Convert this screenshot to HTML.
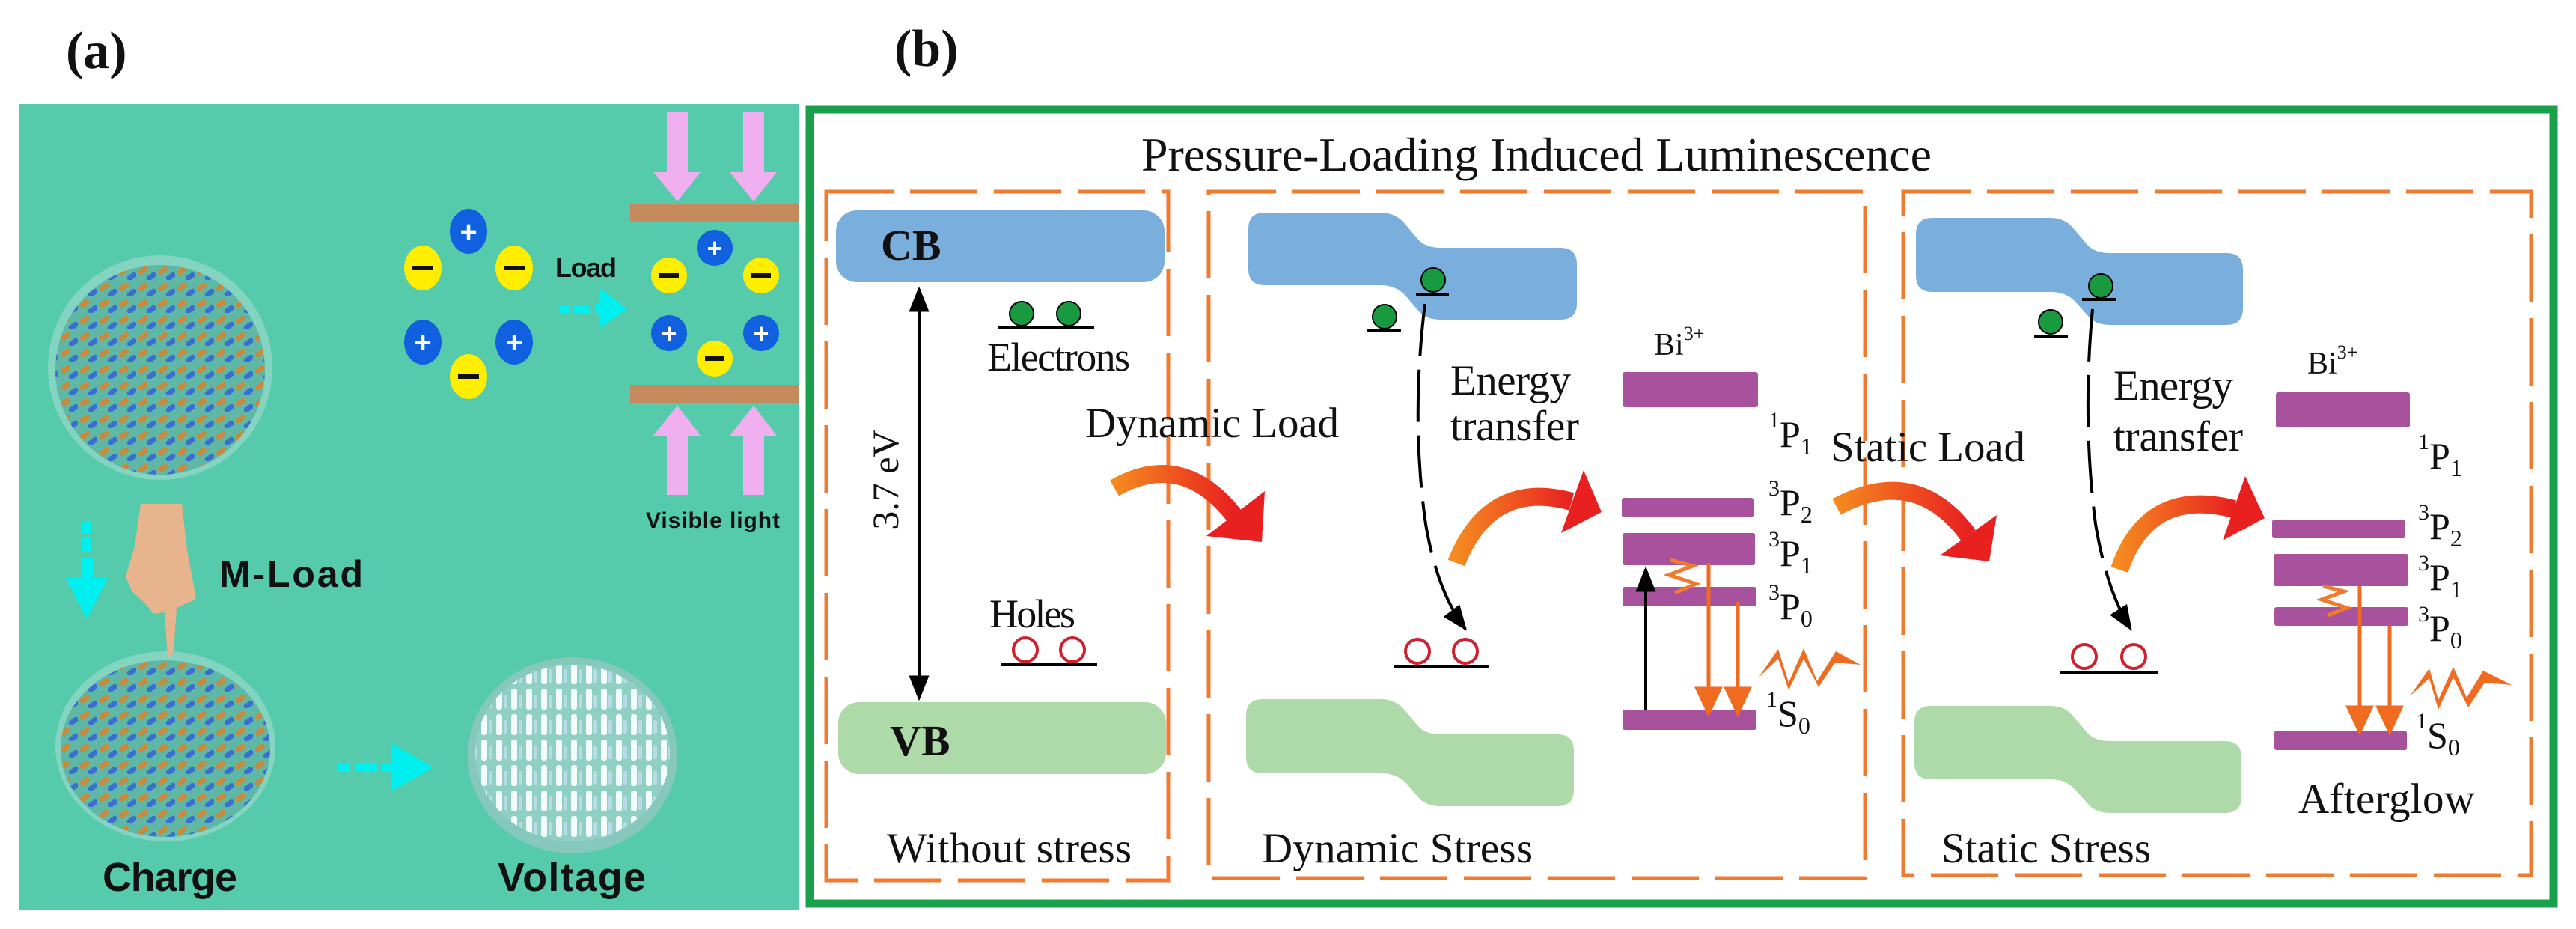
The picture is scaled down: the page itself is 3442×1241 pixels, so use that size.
<!DOCTYPE html>
<html><head><meta charset="utf-8"><style>
html,body{margin:0;padding:0;background:#fff;}
svg{display:block;}
.sr{font-family:"Liberation Serif",serif;fill:#111;}
.ss{font-family:"Liberation Sans",sans-serif;font-weight:bold;fill:#111;}
</style></head><body>
<svg width="3442" height="1241" viewBox="0 0 3442 1241" xmlns="http://www.w3.org/2000/svg">
<defs>
<pattern id="mol" patternUnits="userSpaceOnUse" width="26" height="22">
<rect width="26" height="22" fill="#5fb8a6"/>
<rect x="2" y="6" width="14" height="7" rx="3" fill="#c98a3c" transform="rotate(-35 9 9)"/>
<rect x="13" y="14" width="14" height="7" rx="3" fill="#3a6fd0" transform="rotate(-35 20 17)"/>
</pattern>
<pattern id="volt" patternUnits="userSpaceOnUse" width="20" height="34">
<rect width="20" height="34" fill="#8fd0c3"/>
<rect x="3" y="2" width="8" height="28" rx="3" fill="#f4fbfb"/>
<rect x="13" y="10" width="5" height="18" rx="2" fill="#b9dbe8"/>
</pattern>
<linearGradient id="rg" x1="0" y1="0" x2="1" y2="0"><stop offset="0" stop-color="#f58a20"/><stop offset="1" stop-color="#e82020"/></linearGradient>
<marker id="ahb" viewBox="0 0 10 10" refX="9" refY="5" markerWidth="34" markerHeight="34" orient="auto-start-reverse" markerUnits="userSpaceOnUse"><path d="M0,1 L10,5 L0,9 z" fill="#000"/></marker>
</defs>

<!-- (a) -->
<text x="88" y="91" class="sr" font-size="70" font-weight="bold">(a)</text>
<rect x="25" y="139" width="1043" height="1076" fill="#55cbab"/>
<g fill="#f0b0f0">
<path d="M891,150 H919 V230 H936 L905,269 L873,230 H891 Z"/>
<path d="M993,150 H1021 V230 H1038 L1007,269 L975,230 H993 Z"/>
<path d="M891,661 H919 V582 H936 L905,542 L873,582 H891 Z"/>
<path d="M993,661 H1021 V582 H1038 L1007,542 L975,582 H993 Z"/>
</g>
<rect x="842" y="273" width="226" height="24" fill="#c48a5e"/>
<rect x="842" y="514" width="226" height="24" fill="#c48a5e"/>
<g font-family="Liberation Sans,sans-serif" font-weight="bold" text-anchor="middle">
<ellipse cx="626" cy="309" rx="25" ry="30" fill="#1060e0"/><text x="626" y="323" font-size="40" fill="#fff">+</text>
<ellipse cx="565" cy="358" rx="25" ry="30" fill="#ffee00"/><rect x="551" y="355" width="28" height="6" fill="#111"/>
<ellipse cx="687" cy="358" rx="25" ry="30" fill="#ffee00"/><rect x="673" y="355" width="28" height="6" fill="#111"/>
<ellipse cx="565" cy="457" rx="25" ry="30" fill="#1060e0"/><text x="565" y="471" font-size="40" fill="#fff">+</text>
<ellipse cx="687" cy="457" rx="25" ry="30" fill="#1060e0"/><text x="687" y="471" font-size="40" fill="#fff">+</text>
<ellipse cx="626" cy="503" rx="25" ry="30" fill="#ffee00"/><rect x="612" y="500" width="28" height="6" fill="#111"/>
<ellipse cx="955" cy="331" rx="24" ry="24" fill="#1060e0"/><text x="955" y="344" font-size="36" fill="#fff">+</text>
<ellipse cx="894" cy="368" rx="24" ry="24" fill="#ffee00"/><rect x="881" y="365" width="26" height="6" fill="#111"/>
<ellipse cx="1017" cy="368" rx="24" ry="24" fill="#ffee00"/><rect x="1004" y="365" width="26" height="6" fill="#111"/>
<ellipse cx="894" cy="445" rx="24" ry="24" fill="#1060e0"/><text x="894" y="458" font-size="36" fill="#fff">+</text>
<ellipse cx="1017" cy="445" rx="24" ry="24" fill="#1060e0"/><text x="1017" y="458" font-size="36" fill="#fff">+</text>
<ellipse cx="955" cy="479" rx="24" ry="24" fill="#ffee00"/><rect x="942" y="476" width="26" height="6" fill="#111"/>
</g>
<text x="742" y="370" class="ss" font-size="36" textLength="82">Load</text>
<g fill="#00f0f0">
<rect x="747" y="408" width="14" height="10"/><rect x="767" y="408" width="22" height="10"/>
<path d="M795,406 H800 V384 L838,413 L800,439 V420 H795 Z"/>
<rect x="110" y="696" width="12" height="16"/><rect x="110" y="718" width="12" height="20"/>
<path d="M108,744 H124 V772 H144 L116,827 L88,772 H108 Z"/>
<rect x="452" y="1019" width="16" height="12"/><rect x="474" y="1019" width="30" height="12"/>
<path d="M510,1019 H523 V993 L579,1025 L523,1057 V1031 H510 Z"/>
</g>
<text x="863" y="705" class="ss" font-size="30" textLength="179">Visible light</text>
<circle cx="214" cy="491" r="150" fill="#8ed6c6" opacity="0.8"/>
<circle cx="214" cy="494" r="140" fill="url(#mol)"/>
<ellipse cx="221" cy="997" rx="147" ry="127" fill="#8ed6c6" opacity="0.8"/>
<ellipse cx="221" cy="1000" rx="140" ry="118" fill="url(#mol)"/>
<ellipse cx="765" cy="1009" rx="140" ry="131" fill="#86c8bc"/>
<ellipse cx="765" cy="1006" rx="130" ry="118" fill="url(#volt)"/>
<path d="M188,673 L243,673 L250,735 L262,800 L236,812 L232,870 L224,880 L220,818 L205,820 L196,808 L176,790 L168,770 L180,730 Z" fill="#e8b48e"/>
<text x="293" y="784" class="ss" font-size="50" textLength="192">M-Load</text>
<text x="137" y="1190" class="ss" font-size="54" textLength="180">Charge</text>
<text x="665" y="1190" class="ss" font-size="54" textLength="198">Voltage</text>

<!-- (b) -->
<text x="1195" y="88" class="sr" font-size="70" font-weight="bold">(b)</text>
<rect x="1082" y="146" width="2330" height="1061" fill="none" stroke="#18a04a" stroke-width="11"/>
<text x="1525" y="228" class="sr" font-size="64" textLength="1056">Pressure-Loading Induced Luminescence</text>
<g fill="none" stroke="#f07a30" stroke-width="5" stroke-dasharray="90 22">
<rect x="1104" y="256" width="457" height="920"/>
<rect x="1615" y="256" width="877" height="917"/>
<rect x="2543" y="256" width="839" height="913"/>
</g>

<rect x="1117" y="281" width="439" height="96" rx="28" fill="#7aaedc"/>
<text x="1177" y="347" class="sr" font-size="58" font-weight="bold">CB</text>
<rect x="1120" y="938" width="438" height="96" rx="28" fill="#aed9a8"/>
<text x="1189" y="1009" class="sr" font-size="58" font-weight="bold">VB</text>
<line x1="1228" y1="386" x2="1228" y2="933" stroke="#000" stroke-width="4" marker-start="url(#ahb)" marker-end="url(#ahb)"/>
<text transform="translate(1200,641) rotate(-90)" class="sr" font-size="50" text-anchor="middle">3.7 eV</text>
<circle cx="1365" cy="419" r="16" fill="#1a9a40" stroke="#000" stroke-width="2"/>
<circle cx="1428" cy="419" r="16" fill="#1a9a40" stroke="#000" stroke-width="2"/>
<line x1="1334" y1="438" x2="1462" y2="438" stroke="#000" stroke-width="4"/>
<text x="1319" y="495" class="sr" font-size="54" textLength="191">Electrons</text>
<text x="1322" y="838" class="sr" font-size="54" textLength="115">Holes</text>
<circle cx="1370" cy="868" r="16" fill="#fff" stroke="#d02030" stroke-width="4"/>
<circle cx="1433" cy="868" r="16" fill="#fff" stroke="#d02030" stroke-width="4"/>
<line x1="1338" y1="888" x2="1466" y2="888" stroke="#000" stroke-width="4"/>
<text x="1450" y="584" class="sr" font-size="57" textLength="339">Dynamic Load</text>
<text x="1185" y="1152" class="sr" font-size="57" textLength="327">Without stress</text>

<path d="M1690,284 H1845 Q1865,284 1878,300 L1895,320 Q1905,331 1925,331 H2085 Q2107,331 2107,353 V405 Q2107,427 2085,427 H1925 Q1905,427 1895,415 L1878,395 Q1865,381 1845,381 H1690 Q1668,381 1668,359 V306 Q1668,284 1690,284 Z" fill="#7aaedc"/>
<path d="M1687,934 H1845 Q1865,934 1878,950 L1895,970 Q1905,981 1925,981 H2081 Q2103,981 2103,1003 V1055 Q2103,1077 2081,1077 H1925 Q1905,1077 1895,1065 L1878,1045 Q1865,1033 1845,1033 H1687 Q1665,1033 1665,1011 V956 Q1665,934 1687,934 Z" fill="#aed9a8"/>
<circle cx="1850" cy="423" r="16" fill="#1a9a40" stroke="#000" stroke-width="2"/>
<line x1="1827" y1="441" x2="1872" y2="441" stroke="#000" stroke-width="4"/>
<circle cx="1915" cy="374" r="16" fill="#1a9a40" stroke="#000" stroke-width="2"/>
<line x1="1892" y1="393" x2="1936" y2="393" stroke="#000" stroke-width="4"/>
<path d="M1904,406 Q1885,560 1905,700 Q1920,790 1958,840" fill="none" stroke="#000" stroke-width="4" stroke-dasharray="70 18" marker-end="url(#ahb)"/>
<text x="1938" y="527" class="sr" font-size="57" textLength="161">Energy</text>
<text x="1938" y="588" class="sr" font-size="57" textLength="172">transfer</text>
<circle cx="1894" cy="870" r="16" fill="#fff" stroke="#d02030" stroke-width="4"/>
<circle cx="1958" cy="870" r="16" fill="#fff" stroke="#d02030" stroke-width="4"/>
<line x1="1862" y1="891" x2="1990" y2="891" stroke="#000" stroke-width="4"/>
<text x="1686" y="1152" class="sr" font-size="57" textLength="362">Dynamic Stress</text>
<g fill="#a8529e">
<rect x="2168" y="497" width="181" height="47" rx="3"/>
<rect x="2167" y="665" width="176" height="26" rx="3"/>
<rect x="2168" y="712" width="177" height="43" rx="3"/>
<rect x="2168" y="784" width="179" height="26" rx="3"/>
<rect x="2168" y="948" width="179" height="27" rx="3"/>
</g>
<text x="2210" y="474" class="sr" font-size="42">Bi<tspan font-size="26" dy="-20">3+</tspan></text>
<line x1="2199" y1="948" x2="2199" y2="760" stroke="#000" stroke-width="4" marker-end="url(#ahb)"/>
<polyline points="2232,748 2262,756 2230,768 2266,780 2238,792" fill="none" stroke="#f07a30" stroke-width="5"/>
<g stroke="#f06a20" stroke-width="5" fill="#f06a20">
<line x1="2283" y1="752" x2="2283" y2="925"/><path d="M2268,920 H2298 L2283,952 Z"/>
<line x1="2322" y1="804" x2="2322" y2="925"/><path d="M2307,920 H2337 L2322,952 Z"/>
</g>
<path d="M2350,905 L2376,867 L2390,912 L2410,866 L2428,910 L2453,870 L2486,888 L2452,885 L2430,918 L2410,880 L2390,922 L2376,880 Z" fill="#f06a20"/>
<g class="sr" font-size="50">
<text x="2363" y="597"><tspan font-size="30" dy="-26">1</tspan><tspan dy="26">P</tspan><tspan font-size="32" dy="10">1</tspan></text>
<text x="2363" y="688"><tspan font-size="30" dy="-26">3</tspan><tspan dy="26">P</tspan><tspan font-size="32" dy="10">2</tspan></text>
<text x="2363" y="756"><tspan font-size="30" dy="-26">3</tspan><tspan dy="26">P</tspan><tspan font-size="32" dy="10">1</tspan></text>
<text x="2363" y="827"><tspan font-size="30" dy="-26">3</tspan><tspan dy="26">P</tspan><tspan font-size="32" dy="10">0</tspan></text>
<text x="2360" y="970"><tspan font-size="30" dy="-26">1</tspan><tspan dy="26">S</tspan><tspan font-size="32" dy="10">0</tspan></text>
</g>
<text x="2446" y="616" class="sr" font-size="57" textLength="260">Static Load</text>

<path d="M2582,291 H2740 Q2760,291 2772,307 L2790,328 Q2800,338 2820,338 H2975 Q2997,338 2997,360 V412 Q2997,434 2975,434 H2820 Q2800,434 2790,422 L2772,402 Q2760,390 2740,390 H2582 Q2560,390 2560,368 V313 Q2560,291 2582,291 Z" fill="#7aaedc"/>
<path d="M2580,943 H2740 Q2760,943 2772,959 L2790,980 Q2800,990 2820,990 H2973 Q2995,990 2995,1012 V1064 Q2995,1086 2973,1086 H2820 Q2800,1086 2790,1074 L2772,1054 Q2760,1041 2740,1041 H2580 Q2558,1041 2558,1019 V965 Q2558,943 2580,943 Z" fill="#aed9a8"/>
<circle cx="2740" cy="430" r="16" fill="#1a9a40" stroke="#000" stroke-width="2"/>
<line x1="2718" y1="449" x2="2763" y2="449" stroke="#000" stroke-width="4"/>
<circle cx="2807" cy="382" r="16" fill="#1a9a40" stroke="#000" stroke-width="2"/>
<line x1="2782" y1="400" x2="2828" y2="400" stroke="#000" stroke-width="4"/>
<path d="M2796,413 Q2782,560 2800,700 Q2815,790 2847,840" fill="none" stroke="#000" stroke-width="4" stroke-dasharray="70 18" marker-end="url(#ahb)"/>
<text x="2824" y="534" class="sr" font-size="57" textLength="160">Energy</text>
<text x="2824" y="602" class="sr" font-size="57" textLength="173">transfer</text>
<circle cx="2785" cy="877" r="16" fill="#fff" stroke="#d02030" stroke-width="4"/>
<circle cx="2851" cy="877" r="16" fill="#fff" stroke="#d02030" stroke-width="4"/>
<line x1="2753" y1="899" x2="2883" y2="899" stroke="#000" stroke-width="4"/>
<text x="2594" y="1152" class="sr" font-size="57" textLength="280">Static Stress</text>
<g fill="#a8529e">
<rect x="3041" y="524" width="179" height="47" rx="3"/>
<rect x="3036" y="694" width="178" height="25" rx="3"/>
<rect x="3038" y="740" width="180" height="43" rx="3"/>
<rect x="3039" y="811" width="179" height="25" rx="3"/>
<rect x="3039" y="976" width="177" height="26" rx="3"/>
</g>
<text x="3083" y="499" class="sr" font-size="42">Bi<tspan font-size="26" dy="-20">3+</tspan></text>
<polyline points="3104,783 3132,790 3102,801 3136,812 3110,822" fill="none" stroke="#f07a30" stroke-width="5"/>
<g stroke="#f06a20" stroke-width="5" fill="#f06a20">
<line x1="3153" y1="783" x2="3153" y2="950"/><path d="M3138,945 H3168 L3153,977 Z"/>
<line x1="3193" y1="836" x2="3193" y2="950"/><path d="M3178,945 H3208 L3193,977 Z"/>
</g>
<path d="M3220,930 L3246,893 L3258,935 L3278,891 L3296,932 L3318,896 L3356,915 L3320,912 L3298,945 L3278,905 L3258,948 L3246,906 Z" fill="#f06a20"/>
<g class="sr" font-size="50">
<text x="3231" y="626"><tspan font-size="30" dy="-26">1</tspan><tspan dy="26">P</tspan><tspan font-size="32" dy="10">1</tspan></text>
<text x="3231" y="720"><tspan font-size="30" dy="-26">3</tspan><tspan dy="26">P</tspan><tspan font-size="32" dy="10">2</tspan></text>
<text x="3231" y="788"><tspan font-size="30" dy="-26">3</tspan><tspan dy="26">P</tspan><tspan font-size="32" dy="10">1</tspan></text>
<text x="3231" y="856"><tspan font-size="30" dy="-26">3</tspan><tspan dy="26">P</tspan><tspan font-size="32" dy="10">0</tspan></text>
<text x="3228" y="999"><tspan font-size="30" dy="-26">1</tspan><tspan dy="26">S</tspan><tspan font-size="32" dy="10">0</tspan></text>
</g>
<text x="3071" y="1086" class="sr" font-size="57" textLength="236">Afterglow</text>

<g fill="none" stroke="url(#rg)" stroke-width="24" stroke-linecap="butt">
<path d="M1489,652 Q1580,600 1650,690"/>
<path d="M1946,752 Q1990,640 2100,670"/>
<path d="M2454,677 Q2560,620 2630,715"/>
<path d="M2832,761 Q2870,650 2985,680"/>
</g>
<g fill="#e82020">
<path d="M1690,656 L1612,716 L1686,724 Z"/>
<path d="M2086,712 L2116,628 L2140,684 Z"/>
<path d="M2668,688 L2592,742 L2658,750 Z"/>
<path d="M2970,722 L3000,636 L3026,692 Z"/>
</g>
</svg>
</body></html>
